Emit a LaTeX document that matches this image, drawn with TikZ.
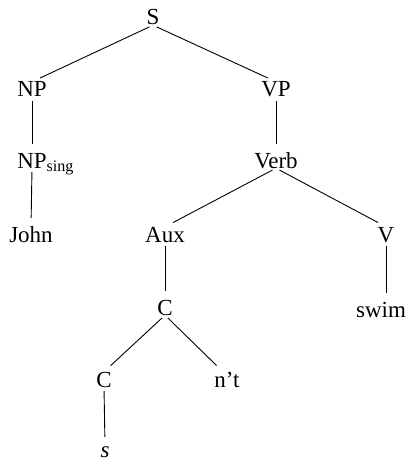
\documentclass[tikz,border=0pt]{standalone}
\usepackage{fontspec}
\setmainfont{Liberation Serif}
\begin{document}
\begin{tikzpicture}[x=1pt,y=-1pt,
  cat/.style={anchor=base,inner sep=0pt,text height=15pt,text depth=0pt,
    font=\fontsize{23}{27}\selectfont},
  branch/.style={line width=0.9pt,shorten <=4pt,shorten >=9pt}]
\useasboundingbox (0,0) rectangle (414,462);
% categories and words, placed at their baselines
\node[cat] (S)    at (153,25)  {S};
\node[cat] (NP)   at (32,97)   {NP};
\node[cat] (VP)   at (276,97)  {VP};
\node[cat] (NPs)  at (32,168)  {NP\rlap{\textsubscript{sing}}};
\node[cat] (Verb) at (276,168) {Verb};
\node[cat] (John) at (31,242)  {John};
\node[cat] (Aux)  at (165,242) {Aux};
\node[cat] (V)    at (386,242) {V};
\node[cat] (C)    at (165,315) {C};
\node[cat] (swim) at (381,317) {swim};
\node[cat] (C2)   at (104,387) {C};
\node[cat] (nt)   at (227,387) {n't};
\node[cat] (s)    at (105,457) {\itshape s};
% branches
\draw[branch] (S.south) -- (NP.north);
\draw[branch] (S.south) -- (VP.north);
\draw[branch] (NP.south) -- (NPs.north);
\draw[branch] (NPs.south) -- (John.north);
\draw[branch] (VP.south) -- (Verb.north);
\draw[branch] (Verb.south) -- (Aux.north);
\draw[branch] (Verb.south) -- (V.north);
\draw[branch] (Aux.south) -- (C.north);
\draw[branch] (V.south) -- ([xshift=5pt]swim.north);
\draw[branch] (C.south) -- (C2.north);
\draw[branch] (C.south) -- ([xshift=-4pt]nt.north);
\draw[branch] (C2.south) -- ([yshift=-4pt]s.north);
\end{tikzpicture}
\end{document}
